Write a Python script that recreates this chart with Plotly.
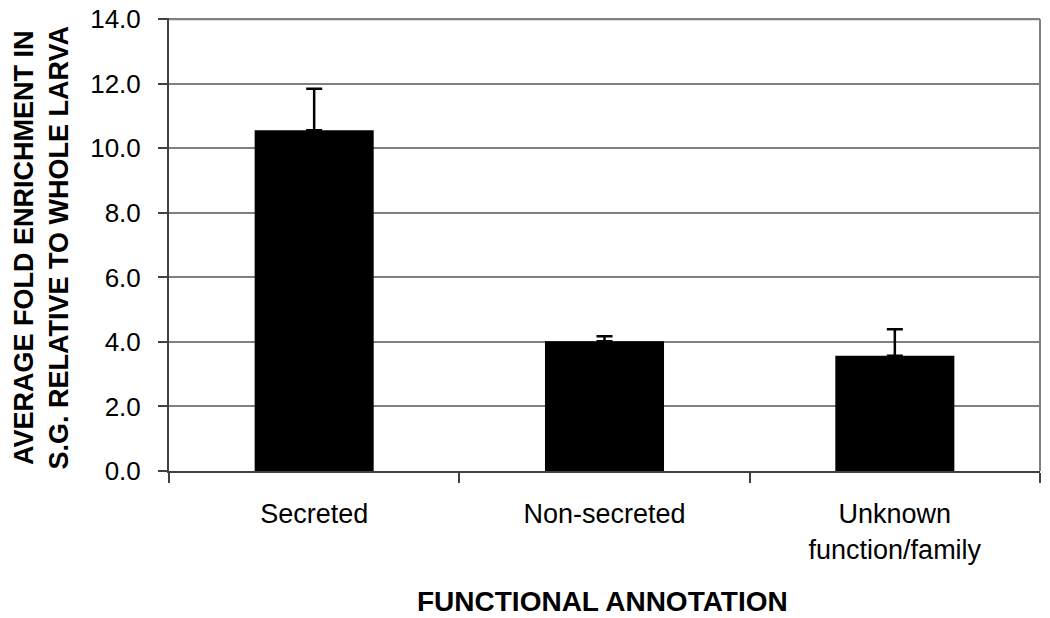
import plotly.graph_objects as go

categories = ["Secreted", "Non-secreted", "Unknown<br>function/family"]
enrichment = [10.56, 4.02, 3.57]
error_up = [1.29, 0.16, 0.82]
error_down = [0, 0, 0]
y_ticks = [0, 2, 4, 6, 8, 10, 12, 14]

AXIS_COLOR = "#404040"
GRID_COLOR = "#808080"

fig = go.Figure()
fig.add_trace(
    go.Bar(
        x=categories,
        y=enrichment,
        marker=dict(color="black", line=dict(width=0)),
        error_y=dict(
            type="data",
            symmetric=False,
            array=error_up,
            arrayminus=error_down,
            color="black",
            thickness=2.5,
            width=8,
        ),
        width=0.41,
    )
)

# the page body has an 8px margin, so the figure is a little smaller than the window
fig.update_layout(
    width=1042,
    height=610,
    plot_bgcolor="white",
    paper_bgcolor="white",
    margin=dict(l=161, r=10, t=10, b=147),
    showlegend=False,
    font=dict(family="Liberation Sans, Arial, sans-serif", color="black"),
    xaxis=dict(
        automargin=False,
        showline=True,
        linecolor=AXIS_COLOR,
        linewidth=2,
        ticks="outside",
        tickson="boundaries",
        ticklen=10,
        tickcolor=AXIS_COLOR,
        tickwidth=1.5,
        tickfont=dict(size=27),
        ticklabelstandoff=18,
        showgrid=False,
    ),
    yaxis=dict(
        automargin=False,
        range=[0, 14.04],
        tickvals=y_ticks,
        ticktext=[f"{v:.1f}" for v in y_ticks],
        tickfont=dict(size=26),
        ticklabelstandoff=12,
        ticklabeloverflow="allow",
        showline=True,
        linecolor=AXIS_COLOR,
        linewidth=2,
        ticks="outside",
        ticklen=9,
        tickcolor=AXIS_COLOR,
        tickwidth=1.5,
        showgrid=True,
        gridcolor=GRID_COLOR,
        gridwidth=1.5,
        zeroline=False,
    ),
    shapes=[
        # plot-area border on the right and the top gridline
        dict(
            type="line", xref="paper", yref="paper",
            x0=1, x1=1, y0=0, y1=0.997,
            line=dict(color=GRID_COLOR, width=2),
        ),
        dict(
            type="line", xref="paper", yref="y",
            x0=0, x1=1, y0=y_ticks[-1], y1=y_ticks[-1],
            line=dict(color=GRID_COLOR, width=2),
        ),
    ],
    annotations=[
        dict(
            text="<b>AVERAGE FOLD ENRICHMENT IN<br>S.G. RELATIVE TO WHOLE LARVA</b>",
            xref="paper", yref="paper",
            x=-0.146, y=0.493, xanchor="center", yanchor="middle",
            textangle=-90, showarrow=False,
            font=dict(size=27),
        ),
        dict(
            text="<b>FUNCTIONAL ANNOTATION</b>",
            xref="paper", yref="paper",
            x=0.498, y=-0.288, xanchor="center", yanchor="middle",
            showarrow=False,
            font=dict(size=28),
        ),
    ],
)

fig.write_html("out.html")
